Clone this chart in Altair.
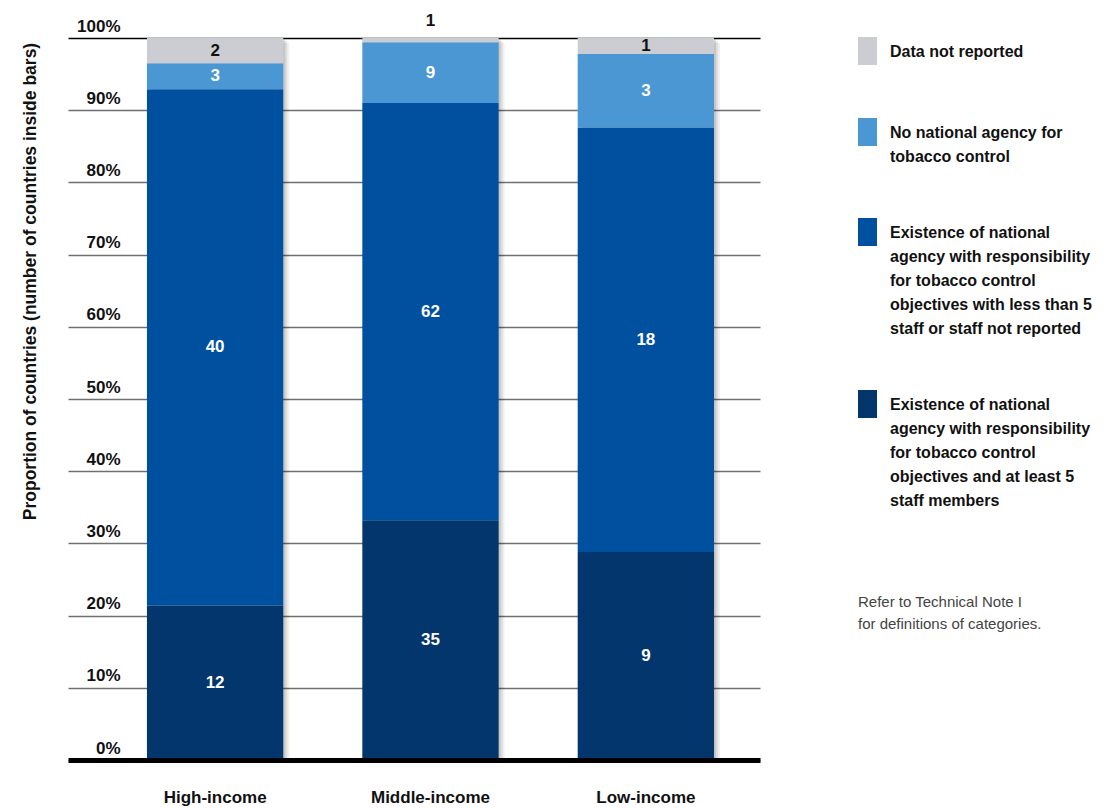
import altair as alt
import pandas as pd

# ---------------- data ----------------
income = ["High-income", "Middle-income", "Low-income"]

cat_at_least_5 = "Existence of national\nagency with responsibility\nfor tobacco control\nobjectives and at least 5\nstaff members"
cat_less_than_5 = "Existence of national\nagency with responsibility\nfor tobacco control\nobjectives with less than 5\nstaff or staff not reported"
cat_no_agency = "No national agency for\ntobacco control"
cat_not_reported = "Data not reported"

# stacking order bottom -> top
categories = [cat_at_least_5, cat_less_than_5, cat_no_agency, cat_not_reported]

# number of countries (labels inside bars)
count_at_least_5 = [12, 35, 9]
count_less_than_5 = [40, 62, 18]
count_no_agency = [3, 9, 3]
count_not_reported = [2, 1, 1]
counts = [count_at_least_5, count_less_than_5, count_no_agency, count_not_reported]

# proportion of countries (% of bar height)
share_at_least_5 = [21.4, 33.2, 28.8]
share_less_than_5 = [71.5, 57.8, 58.8]
share_no_agency = [3.6, 8.4, 10.2]
share_not_reported = [3.5, 0.6, 2.2]
shares = [share_at_least_5, share_less_than_5, share_no_agency, share_not_reported]

colors = ["#02366C", "#0050A0", "#4A97D3", "#CBCDD2"]

y_ticks = [0, 0.1, 0.2, 0.3, 0.4, 0.5, 0.6, 0.7, 0.8, 0.9, 1.0]
note_lines = ["Refer to Technical Note I", "for definitions of categories."]

FONT = "Liberation Sans Narrow, Liberation Sans, Open Sans, sans-serif"

rows = []
for k, (cat, cnts, shs) in enumerate(zip(categories, counts, shares)):
    for inc, c, s in zip(income, cnts, shs):
        rows.append({"income": inc, "category": cat, "count": c, "share": s, "order": k})
df = pd.DataFrame(rows)

legend_domain = categories[::-1]
legend_range = colors[::-1]

base = alt.Chart(df).transform_stack(
    stack="share",
    groupby=["income"],
    as_=["y0", "y1"],
    offset="normalize",
    sort=[alt.SortField("order", order="ascending")],
).transform_calculate(
    mid="(datum.y0 + datum.y1) / 2",
    frac="datum.y1 - datum.y0",
)

x_enc = alt.X(
    "income:N",
    sort=income,
    scale=alt.Scale(paddingInner=0.367, paddingOuter=0.29, align=0.632),
    axis=alt.Axis(
        title=None, labelAngle=0, labelFont=FONT, labelFontSize=17,
        labelFontWeight="bold", labelColor="#111", labelPadding=29,
        tickSize=0, domainColor="black", domainWidth=5, zindex=1,
    ),
)

y_scale = alt.Scale(domain=[0, 1])

shadows = []
for off, op in [(2, 0.10), (4, 0.08), (6, 0.06)]:
    shadows.append(
        alt.Chart(df).transform_aggregate(total="sum(share)", groupby=["income"])
        .mark_bar(color="black", opacity=op, xOffset=off, yOffset=off - 1)
        .encode(x=x_enc, y=alt.datum(1.0, scale=y_scale), y2=alt.datum(0))
    )

bars = base.mark_bar(strokeWidth=0).encode(
    x=x_enc,
    y=alt.Y(
        "y0:Q",
        scale=y_scale,
        axis=alt.Axis(
            values=y_ticks, format="%", title="Proportion of countries (number of countries inside bars)",
            labelFont=FONT, labelFontSize=17, labelFontWeight="bold", labelColor="#111",
            labelAlign="right", labelBaseline="bottom", labelPadding=-52, labelOffset=-3,
            tickSize=0, domain=False, grid=True, gridWidth=1.5,
            gridColor={"condition": {"test": "datum.value >= 1", "value": "#000000"}, "value": "#6f6f6f"},
            titleFont=FONT, titleFontSize=17.5, titleFontWeight="bold", titleColor="#111",
            titleX=-38, titleY=243, titleAngle=-90, titleAlign="center", titleBaseline="middle",
        ),
    ),
    y2="y1:Q",
    color=alt.Color(
        "category:N",
        scale=alt.Scale(domain=legend_domain, range=legend_range),
        legend=alt.Legend(
            title=None, orient="none", legendX=785.5, legendY=-8, direction="vertical",
            symbolType="M-0.68,-0.5 L0.68,-0.5 L0.68,1.5 L-0.68,1.5 Z", symbolSize=784,
            symbolStrokeWidth=0, symbolOpacity=1,
            labelFont=FONT, labelFontSize=16, labelFontWeight="bold", labelColor="#111",
            labelBaseline="top", labelOffset=8.5, labelLimit=0, rowPadding=46, padding=0,
            labelExpr="split(datum.label, '\\n')",
        ),
    ),
)

labels_in = base.transform_filter("datum.frac >= 0.015").mark_text(
    font=FONT, fontSize=17, fontWeight="bold", baseline="middle"
).encode(
    x=alt.X("income:N", sort=income),
    y=alt.Y("mid:Q"),
    text="count:Q",
    color=alt.condition("datum.order == 3", alt.value("#111111"), alt.value("white")),
)

labels_out = base.transform_filter("datum.frac < 0.015").mark_text(
    font=FONT, fontSize=17, fontWeight="bold", baseline="middle", dy=-17, color="#111111"
).encode(
    x=alt.X("income:N", sort=income),
    y=alt.Y("y1:Q"),
    text="count:Q",
)

chart = alt.layer(*shadows, bars, labels_in, labels_out).properties(
    width=692,
    height=722,
    padding={"left": 60, "top": 30, "right": 350, "bottom": 48},
    autosize=alt.AutoSizeParams(type="none"),
    title=alt.TitleParams(
        text=note_lines, anchor="start", orient="top", frame="group",
        font=FONT, fontSize=15, fontWeight="normal", color="#444",
        lineHeight=22, dx=790, dy=624, baseline="top",
    ),
).configure(
    style={"guide-label": {"lineHeight": 24}}
).configure_view(stroke=None)

chart.save("out.html", embed_options={"renderer": "svg", "actions": False})
